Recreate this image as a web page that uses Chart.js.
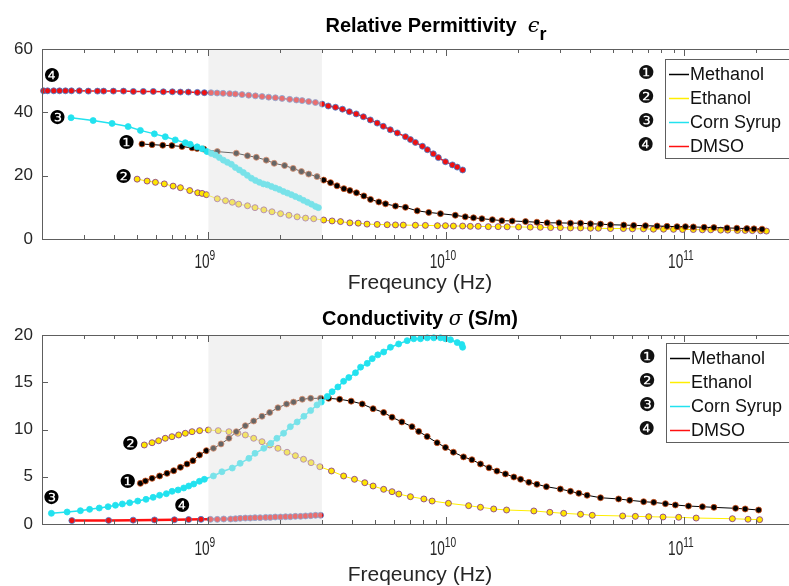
<!DOCTYPE html>
<html>
<head>
<meta charset="utf-8">
<script src="https://cdn.jsdelivr.net/npm/chart.js@4.4.1/dist/chart.umd.min.js"></script>
<style>
  html, body { margin: 0; padding: 0; background: #fff; }
  #wrap { position: relative; width: 789px; height: 586px; overflow: hidden; }
  #topChart { position: absolute; left: 0; top: 0; }
  #bottomChart { position: absolute; left: 0; top: 302px; }
</style>
</head>
<body>
<div id="wrap">
  <canvas id="topChart" width="810" height="302"></canvas>
  <canvas id="bottomChart" width="810" height="284"></canvas>
</div>
<script>
const FONT = '"Liberation Sans", Arial, sans-serif';
const NUMS = ['\u2776', '\u2777', '\u2778', '\u2779'];

// frequencies in GHz

// --- relative permittivity ---
const methEpsF = [0.526,0.580,0.643,0.703,0.775,0.854,0.897,0.956,1.09,1.31,1.46,1.59,1.75,1.89,2.09,2.27,2.46,2.64,2.86,3.05,3.26,3.47,3.71,3.93,4.19,4.50,4.80,5.20,5.55,6.11,6.73,7.54,8.43,9.44,10.9,12.0,13.0,14.1,15.6,17.1,18.9,21.5,24.0,26.5,29.7,33.2,36.6,40.3,44.4,48.9,55.6,61.2,68.6,76.8,84.5,93.1,101,109,121,133,151,166,183,196,212];
const methEps  = [30.0,29.8,29.6,29.5,29.2,28.8,28.6,28.4,27.6,27.1,26.3,25.8,24.9,23.9,23.2,22.3,21.3,20.5,19.7,18.6,17.8,16.8,15.9,15.3,14.6,13.6,12.5,11.7,11.1,10.4,10.0,8.9,8.4,8.0,7.5,7.0,6.7,6.4,6.1,5.8,5.7,5.5,5.3,5.1,5.1,5.0,5.0,4.8,4.7,4.5,4.4,4.3,4.2,4.1,4.0,3.9,3.9,3.8,3.7,3.6,3.5,3.4,3.3,3.2,3.1];

const ethEpsF = [0.502,0.553,0.599,0.653,0.711,0.763,0.835,0.902,0.941,0.981,1.09,1.18,1.26,1.34,1.46,1.57,1.71,1.85,2.01,2.18,2.36,2.56,2.77,3.05,3.31,3.59,3.93,4.26,4.64,5.12,5.64,6.11,6.59,7.41,8.16,9.17,9.91,10.7,11.7,12.6,13.6,15.0,16.5,18.0,20.1,22.5,24.8,27.4,30.1,33.2,36.6,40.3,43.5,48.9,55.4,60.5,67.3,74.1,81.7,90.0,98.2,109,119,129,142,152,167,180,193,209,221];
const ethEps  = [18.9,18.3,17.9,17.4,16.7,16.2,15.3,14.6,14.4,14.0,12.7,12.1,11.6,11.0,10.5,9.9,9.2,8.6,8.0,7.5,7.0,6.6,6.4,6.0,5.7,5.5,5.1,5.0,4.7,4.6,4.5,4.45,4.4,4.35,4.3,4.2,4.2,4.1,4.1,4.0,4.0,3.9,3.9,3.85,3.8,3.75,3.7,3.6,3.6,3.5,3.5,3.4,3.4,3.3,3.3,3.2,3.2,3.1,3.1,3.05,3.0,3.0,2.9,2.9,2.8,2.8,2.7,2.7,2.65,2.6,2.5];

const cornEpsF = [0.265,0.328,0.394,0.460,0.518,0.593,0.659,0.726,0.800,0.839,0.897,0.941,0.987,1.029,1.070,1.112,1.156,1.202,1.249,1.298,1.350,1.403,1.458,1.516,1.576,1.638,1.703,1.770,1.840,1.912,1.988,2.067,2.148,2.233,2.321,2.413,2.508,2.607,2.710,2.817,2.899];
const cornEps  = [38.3,37.4,36.5,35.5,34.3,33.2,32.3,31.3,30.4,29.9,29.1,28.5,27.6,27.0,26.5,25.7,24.9,24.2,23.6,22.6,21.8,21.0,20.1,19.2,18.5,17.9,17.4,17.1,16.6,16.1,15.6,15.0,14.5,14.0,13.4,12.9,12.2,11.6,11.0,10.3,9.9];

const dmsoEpsF = [0.203,0.211,0.224,0.237,0.251,0.266,0.287,0.313,0.342,0.363,0.399,0.440,0.484,0.533,0.587,0.647,0.706,0.763,0.824,0.899,0.962,1.026,1.088,1.153,1.229,1.298,1.385,1.477,1.576,1.681,1.792,1.912,2.040,2.196,2.343,2.476,2.639,2.817,3.004,3.19,3.42,3.66,3.91,4.18,4.48,4.79,5.12,5.43,5.81,6.22,6.73,7.06,7.41,7.93,8.32,8.81,9.25,9.91,10.6,11.1,11.7];
const dmsoEps  = [46.8,46.8,46.8,46.8,46.8,46.8,46.8,46.7,46.7,46.7,46.7,46.7,46.6,46.6,46.6,46.5,46.5,46.4,46.4,46.3,46.2,46.2,46.1,46.0,45.9,45.8,45.6,45.4,45.2,45.0,44.8,44.6,44.4,44.1,43.9,43.7,43.4,43.1,42.6,42.0,41.6,41.0,40.2,39.5,38.6,37.6,36.6,35.6,34.5,33.5,32.3,31.4,30.5,29.3,28.2,26.9,25.7,24.4,23.4,22.7,21.8];

// --- conductivity (S/m) ---
const methSigF = [0.518,0.544,0.580,0.624,0.670,0.715,0.763,0.813,0.861,0.918,0.981,1.05,1.13,1.22,1.31,1.43,1.55,1.68,1.81,1.96,2.13,2.28,2.48,2.69,2.96,3.20,3.56,3.98,4.43,4.92,5.45,5.91,6.5,7.17,7.65,8.30,9.14,9.91,10.7,11.8,12.8,13.9,15.1,16.3,17.7,19.2,20.5,22.2,24.0,26.3,30.1,33.2,36.0,39.0,44.4,52.9,58.9,67.4,74.3,83.2,91.6,104,119,133,164,180,205];
const methSig  = [4.30,4.55,4.83,5.08,5.36,5.64,6.00,6.35,6.70,7.30,7.76,8.01,8.47,9.07,9.77,10.4,10.9,11.4,11.8,12.3,12.7,12.9,13.2,13.3,13.3,13.3,13.2,13.0,12.7,12.2,11.8,11.3,10.8,10.3,9.8,9.25,8.6,8.1,7.6,7.1,6.8,6.35,5.95,5.6,5.3,4.97,4.73,4.41,4.2,3.95,3.7,3.46,3.25,3.04,2.78,2.65,2.51,2.36,2.29,2.15,2.01,1.90,1.83,1.76,1.66,1.59,1.48];

const ethSigF = [0.538,0.580,0.618,0.659,0.703,0.750,0.800,0.854,0.919,1.00,1.10,1.22,1.33,1.43,1.55,1.68,1.81,1.96,2.14,2.32,2.51,2.70,2.94,3.29,3.70,4.11,4.54,4.92,5.45,5.91,6.31,7.06,8.04,8.71,10.2,12.4,13.9,15.8,17.9,23.3,27.2,31.1,36.6,41.0,55.0,62.2,70.8,81.3,94.6,112,159,185,207];
const ethSig  = [8.36,8.60,8.81,9.07,9.24,9.42,9.60,9.77,9.88,9.95,9.88,9.77,9.60,9.42,9.07,8.71,8.36,8.01,7.59,7.23,6.85,6.49,6.06,5.61,5.08,4.73,4.37,4.02,3.67,3.42,3.17,2.89,2.65,2.43,2.19,1.94,1.77,1.59,1.48,1.38,1.24,1.13,1.03,0.92,0.85,0.81,0.77,0.74,0.71,0.63,0.56,0.50,0.46];

const cornSigF = [0.219,0.255,0.290,0.317,0.348,0.379,0.407,0.435,0.467,0.505,0.547,0.586,0.624,0.666,0.704,0.746,0.788,0.827,0.868,0.917,0.962,1.05,1.14,1.26,1.36,1.48,1.57,1.71,1.83,1.94,2.07,2.21,2.36,2.52,2.69,2.86,2.98,3.16,3.31,3.50,3.70,3.89,4.15,4.36,4.65,4.88,5.15,5.45,5.82,6.3,6.84,7.29,7.78,8.31,8.85,9.45,9.91,10.4,11.1,11.6,11.7];
const cornSig  = [1.13,1.27,1.41,1.55,1.69,1.83,1.98,2.12,2.25,2.43,2.61,2.82,3.04,3.21,3.46,3.60,3.81,4.02,4.23,4.52,4.73,5.08,5.53,5.92,6.42,6.95,7.48,8.01,8.54,9.07,9.60,10.3,10.8,11.4,12.0,12.6,12.9,13.5,14.0,14.5,15.1,15.5,16.0,16.6,17.0,17.5,17.9,18.2,18.7,19.05,19.4,19.6,19.6,19.7,19.7,19.7,19.6,19.5,19.2,19.0,18.7];

const dmsoSigF = [0.267,0.381,0.483,0.594,0.720,0.826,0.931,1.02,1.09,1.16,1.24,1.30,1.36,1.43,1.50,1.57,1.65,1.74,1.82,1.91,2.01,2.11,2.21,2.32,2.44,2.56,2.69,2.82,2.96];
const dmsoSig  = [0.36,0.38,0.41,0.43,0.45,0.47,0.49,0.49,0.49,0.53,0.53,0.56,0.60,0.63,0.63,0.67,0.67,0.70,0.70,0.74,0.74,0.77,0.77,0.81,0.81,0.85,0.88,0.92,0.92];

// grey band (Hz)
const shadeRange = [1e9, 3e9];

const styles = {
  methanol: { label: 'Methanol',   line: '#000000', fill: '#000000', edge: '#d95319' },
  ethanol:  { label: 'Ethanol',    line: '#ffee00', fill: '#ffe600', edge: '#7e2f8e' },
  corn:     { label: 'Corn Syrup', line: '#22e2ef', fill: '#22e2ef', edge: '#22e2ef' },
  dmso:     { label: 'DMSO',       line: '#ff1010', fill: '#f01010', edge: '#3d7fd0' }
};

function series(key, f, v, order, lineWidth) {
  const s = styles[key];
  return {
    label: s.label,
    data: f.map((g, i) => ({ x: g * 1e9, y: v[i] })),
    borderColor: s.line,
    borderWidth: lineWidth,
    pointBackgroundColor: s.fill,
    pointBorderColor: s.edge,
    pointRadius: 3,
    pointHoverRadius: 3,
    pointBorderWidth: 0.8,
    tension: 0,
    order: order,
    clip: 6
  };
}

// draws the MATLAB-style box, ticks, title, legend and the numbered markers
const matlabAxes = {
  id: 'matlabAxes',
  afterDatasetsDraw(chart) {
    const { ctx, chartArea: a, scales: { x } } = chart;
    const x0 = x.getPixelForValue(shadeRange[0]);
    const x1 = x.getPixelForValue(shadeRange[1]);
    ctx.save();
    ctx.fillStyle = 'rgba(226,226,226,0.45)';
    ctx.fillRect(x0, a.top, x1 - x0, a.bottom - a.top);
    ctx.restore();
  },
  afterDraw(chart, args, o) {
    const { ctx, chartArea: a, scales: { x, y } } = chart;
    ctx.save();

    // box + ticks
    ctx.strokeStyle = '#5e5e5e';
    ctx.lineWidth = 1;
    ctx.strokeRect(Math.round(a.left) + 0.5, Math.round(a.top) + 0.5,
                   Math.round(a.right - a.left), Math.round(a.bottom - a.top));
    ctx.beginPath();
    for (let d = 8; d <= 11; d++) {
      for (let k = 1; k <= 9; k++) {
        const v = k * Math.pow(10, d);
        if (v < x.min || v > x.max) continue;
        const px = Math.round(x.getPixelForValue(v)) + 0.5;
        const len = k === 1 ? 7 : 4;
        ctx.moveTo(px, a.bottom); ctx.lineTo(px, a.bottom - len);
        ctx.moveTo(px, a.top); ctx.lineTo(px, a.top + len);
      }
    }
    y.ticks.forEach(t => {
      const py = Math.round(y.getPixelForValue(t.value)) + 0.5;
      ctx.moveTo(a.left, py); ctx.lineTo(a.left + 6, py);
    });
    ctx.stroke();

    // decade tick labels 10^n
    ctx.fillStyle = '#262626';
    ctx.textAlign = 'left';
    ctx.textBaseline = 'alphabetic';
    const squeeze = 0.68;
    for (let d = 9; d <= 11; d++) {
      const px = x.getPixelForValue(Math.pow(10, d)) - 3.5;
      const exp = String(d);
      ctx.font = '20px ' + FONT;
      const wb = ctx.measureText('10').width;
      ctx.font = '15px ' + FONT;
      const we = ctx.measureText(exp).width;
      const start = px - (wb + we) * squeeze / 2;
      ctx.save();
      ctx.translate(start, a.bottom + o.labelGap);
      ctx.scale(squeeze, 1);
      ctx.font = '20px ' + FONT;
      ctx.fillText('10', 0, 0);
      ctx.font = '15px ' + FONT;
      ctx.fillText(exp, wb, -8);
      ctx.restore();
    }

    // title made of parts (bold text, greek symbol, subscript)
    ctx.fillStyle = '#000';
    let total = 0;
    o.title.forEach(p => { ctx.font = p.font; total += ctx.measureText(p.text).width; });
    let tx = (a.left + a.right) / 2 - total / 2 + (o.titleShift || 0);
    o.title.forEach(p => {
      ctx.font = p.font;
      ctx.fillText(p.text, tx, o.titleY + (p.dy || 0));
      tx += ctx.measureText(p.text).width;
    });

    // legend
    const L = o.legend;
    ctx.fillStyle = '#fff';
    ctx.fillRect(L.left + 0.5, L.top + 0.5, 160, 99);
    ctx.strokeStyle = '#5e5e5e';
    ctx.strokeRect(L.left + 0.5, L.top + 0.5, 160, 99);
    chart.data.datasets.forEach((ds, i) => {
      const ry = L.top + 15 + 24 * i;
      ctx.strokeStyle = ds.borderColor;
      ctx.lineWidth = 1.5;
      ctx.beginPath();
      ctx.moveTo(L.left + 4, ry + 0.5); ctx.lineTo(L.left + 24, ry + 0.5);
      ctx.stroke();
      ctx.fillStyle = '#111';
      ctx.font = '18px ' + FONT;
      ctx.textAlign = 'left';
      ctx.textBaseline = 'middle';
      ctx.fillText(ds.label, L.left + 25, ry + 1);
      ctx.font = '19px "DejaVu Sans"';
      ctx.textAlign = 'center';
      ctx.fillText(NUMS[i], L.left - 19, ry);
    });

    // numbered markers next to the curves
    ctx.fillStyle = '#000';
    ctx.font = '19px "DejaVu Sans"';
    ctx.textAlign = 'center';
    ctx.textBaseline = 'middle';
    o.notes.forEach(n => {
      ctx.fillText(NUMS[n.n - 1], x.getPixelForValue(n.f * 1e9), y.getPixelForValue(n.v));
    });

    ctx.restore();
  }
};

function makeChart(id, datasets, yMax, yStep, pad, xHeight, titlePad, plugOpts) {
  return new Chart(document.getElementById(id), {
    type: 'line',
    data: { datasets: datasets },
    options: {
      responsive: false,
      animation: false,
      events: [],
      layout: { padding: { top: pad, right: 12, left: 0, bottom: 0 } },
      plugins: { legend: { display: false }, tooltip: { enabled: false }, matlabAxes: plugOpts },
      scales: {
        x: {
          type: 'logarithmic',
          min: 2e8,
          max: 3e11,
          grid: { display: false },
          border: { display: false },
          ticks: { display: false },
          title: {
            display: true,
            text: 'Freqeuncy (Hz)',
            color: '#262626',
            font: { family: FONT, size: 21, lineHeight: 1 },
            padding: { top: 0, bottom: titlePad }
          },
          afterFit: s => { s.height = xHeight; }
        },
        y: {
          min: 0,
          max: yMax,
          grid: { display: false, drawTicks: false },
          border: { display: false },
          ticks: { stepSize: yStep, color: '#262626', padding: 9, font: { family: FONT, size: 17 } },
          afterFit: s => { s.width = 42; }
        }
      }
    },
    plugins: [matlabAxes]
  });
}

makeChart('topChart', [
  series('methanol', methEpsF, methEps, 3, 1),
  series('ethanol', ethEpsF, ethEps, 4, 1),
  series('corn', cornEpsF, cornEps, 2, 1.5),
  series('dmso', dmsoEpsF, dmsoEps, 1, 1.5)
], 60, 20, 49, 63, 8, {
  titleY: 32,
  titleShift: 16,
  labelGap: 29,
  title: [
    { text: 'Relative Permittivity  ', font: 'bold 20px ' + FONT },
    { text: '\u03F5', font: 'italic 21px "DejaVu Serif"' },
    { text: 'r', font: 'bold 18px ' + FONT, dy: 8 }
  ],
  legend: { left: 665, top: 59 },
  notes: [
    { n: 4, f: 0.221, v: 51.2 },
    { n: 3, f: 0.232, v: 37.9 },
    { n: 1, f: 0.452, v: 30.0 },
    { n: 2, f: 0.440, v: 19.3 }
  ]
});

makeChart('bottomChart', [
  series('methanol', methSigF, methSig, 3, 1),
  series('ethanol', ethSigF, ethSig, 4, 1),
  series('corn', cornSigF, cornSig, 2, 1.5),
  series('dmso', dmsoSigF, dmsoSig, 1, 2.5)
], 20, 5, 33, 62, 0, {
  titleY: 23,
  labelGap: 31,
  title: [
    { text: 'Conductivity ', font: 'bold 20px ' + FONT },
    { text: '\u03C3', font: 'italic 20px "DejaVu Serif"' },
    { text: ' (S/m)', font: 'bold 20px ' + FONT }
  ],
  legend: { left: 666, top: 41 },
  notes: [
    { n: 3, f: 0.219, v: 2.65 },
    { n: 2, f: 0.470, v: 8.36 },
    { n: 1, f: 0.457, v: 4.34 },
    { n: 4, f: 0.778, v: 1.80 }
  ]
});
</script>
</body>
</html>
